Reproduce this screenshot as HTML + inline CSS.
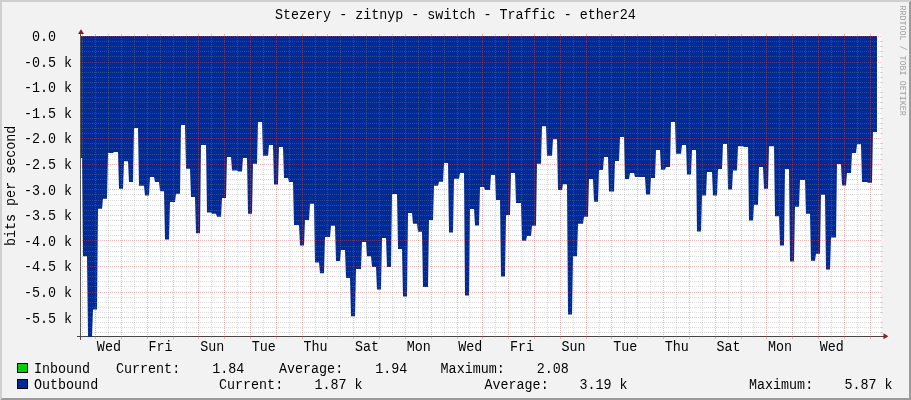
<!DOCTYPE html><html><head><meta charset="utf-8"><title>graph</title><style>
html,body{margin:0;padding:0;background:#f2f2f2;}
body{width:911px;height:400px;overflow:hidden;position:relative;}
svg{position:absolute;left:0;top:0;display:block}
svg.t{will-change:transform;opacity:0.999}
text{font-family:"Liberation Mono",monospace;font-size:13.378px;fill:#000;white-space:pre}
</style></head><body>
<svg width="911" height="400" viewBox="0 0 911 400">
<rect x="0" y="0" width="911" height="400" fill="#f2f2f2"/>
<g shape-rendering="crispEdges">
<polygon points="0,0 911,0 909,2 2,2 2,398 0,400" fill="#cfcfcf"/>
<polygon points="911,0 911,400 0,400 2,398 909,398 909,2" fill="#9a9a9a"/>
<rect x="81" y="35" width="800" height="302" fill="#ffffff"/>
</g>
<g shape-rendering="crispEdges">
<rect x="80" y="32" width="1" height="308" fill="#555555"/>
<rect x="77" y="336" width="808" height="1" fill="#444444"/>
</g>
<polygon points="81,36 81,158 82,158 82,158 83,256.25 84,256.25 85,256.25 86,256.25 87,256.25 88,337 89,337 90,337 91,337 92,337 93,309.5 94,309.5 95,309.5 96,309.5 97,309.5 98,208.75 99,208.75 100,208.75 101,208.75 102,208.75 103,198.75 104,198.75 105,198.75 106,198.75 107,198.75 108,153 109,153 110,153 111,153 112,153 113,153 114,152 115,152 116,152 117,152 118,152 119,188.75 120,188.75 121,188.75 122,188.75 123,188.75 124,161.25 125,161.25 126,161.25 127,161.25 128,161.25 129,182 130,182 131,182 132,182 133,182 134,128 135,128 136,128 137,128 138,128 139,185.75 140,185.75 141,185.75 142,185.75 143,185.75 144,185.75 145,195.5 146,195.5 147,195.5 148,195.5 149,195.5 150,177 151,177 152,177 153,177 154,177 155,182 156,182 157,182 158,182 159,182 160,191.25 161,191.25 162,191.25 163,191.25 164,191.25 165,239.5 166,239.5 167,239.5 168,239.5 169,239.5 170,202 171,202 172,202 173,202 174,202 175,202 176,193.75 177,193.75 178,193.75 179,193.75 180,193.75 181,125 182,125 183,125 184,125 185,125 186,168.75 187,168.75 188,168.75 189,168.75 190,168.75 191,197 192,197 193,197 194,197 195,197 196,233.25 197,233.25 198,233.25 199,233.25 200,233.25 201,145 202,145 203,145 204,145 205,145 206,145 207,212.5 208,212.5 209,212.5 210,212.5 211,212.5 212,213.75 213,213.75 214,213.75 215,213.75 216,213.75 217,216.75 218,216.75 219,216.75 220,216.75 221,216.75 222,198 223,198 224,198 225,198 226,198 227,157 228,157 229,157 230,157 231,157 232,170.5 233,170.5 234,170.5 235,170.5 236,170.5 237,170.5 238,171.5 239,171.5 240,171.5 241,171.5 242,171.5 243,158 244,158 245,158 246,158 247,158 248,213.75 249,213.75 250,213.75 251,213.75 252,213.75 253,163.75 254,163.75 255,163.75 256,163.75 257,163.75 258,122 259,122 260,122 261,122 262,122 263,155.75 264,155.75 265,155.75 266,155.75 267,155.75 268,155.75 269,145 270,145 271,145 272,145 273,145 274,184.5 275,184.5 276,184.5 277,184.5 278,184.5 279,147 280,147 281,147 282,147 283,147 284,178 285,178 286,178 287,178 288,178 289,182 290,182 291,182 292,182 293,182 294,225 295,225 296,225 297,225 298,225 299,225 300,245.5 301,245.5 302,245.5 303,245.5 304,245.5 305,220 306,220 307,220 308,220 309,220 310,203.75 311,203.75 312,203.75 313,203.75 314,203.75 315,262.5 316,262.5 317,262.5 318,262.5 319,262.5 320,273.25 321,273.25 322,273.25 323,273.25 324,273.25 325,237 326,237 327,237 328,237 329,237 330,237 331,225.75 332,225.75 333,225.75 334,225.75 335,225.75 336,261.1 337,261.1 338,261.1 339,261.1 340,261.1 341,250 342,250 343,250 344,250 345,250 346,278 347,278 348,278 349,278 350,278 351,316.25 352,316.25 353,316.25 354,316.25 355,316.25 356,268.9 357,268.9 358,268.9 359,268.9 360,268.9 361,268.9 362,242 363,242 364,242 365,242 366,242 367,256.25 368,256.25 369,256.25 370,256.25 371,256.25 372,266.9 373,266.9 374,266.9 375,266.9 376,266.9 377,289.5 378,289.5 379,289.5 380,289.5 381,289.5 382,238 383,238 384,238 385,238 386,238 387,267 388,267 389,267 390,267 391,267 392,194 393,194 394,194 395,194 396,194 397,194 398,249 399,249 400,249 401,249 402,249 403,296.5 404,296.5 405,296.5 406,296.5 407,296.5 408,213 409,213 410,213 411,213 412,213 413,223.75 414,223.75 415,223.75 416,223.75 417,223.75 418,231.75 419,231.75 420,231.75 421,231.75 422,231.75 423,287.1 424,287.1 425,287.1 426,287.1 427,287.1 428,287.1 429,220 430,220 431,220 432,220 433,220 434,185.75 435,185.75 436,185.75 437,185.75 438,185.75 439,181.75 440,181.75 441,181.75 442,181.75 443,181.75 444,163 445,163 446,163 447,163 448,163 449,232.5 450,232.5 451,232.5 452,232.5 453,232.5 454,178.75 455,178.75 456,178.75 457,178.75 458,178.75 459,178.75 460,173 461,173 462,173 463,173 464,173 465,295.5 466,295.5 467,295.5 468,295.5 469,295.5 470,209 471,209 472,209 473,209 474,209 475,225.5 476,225.5 477,225.5 478,225.5 479,225.5 480,187 481,187 482,187 483,187 484,187 485,190 486,190 487,190 488,190 489,190 490,190 491,175 492,175 493,175 494,175 495,175 496,200 497,200 498,200 499,200 500,200 501,276.5 502,276.5 503,276.5 504,276.5 505,276.5 506,215 507,215 508,215 509,215 510,215 511,173 512,173 513,173 514,173 515,173 516,203 517,203 518,203 519,203 520,203 521,203 522,240.75 523,240.75 524,240.75 525,240.75 526,240.75 527,236 528,236 529,236 530,236 531,236 532,225.75 533,225.75 534,225.75 535,225.75 536,225.75 537,163.75 538,163.75 539,163.75 540,163.75 541,163.75 542,126.25 543,126.25 544,126.25 545,126.25 546,126.25 547,155.75 548,155.75 549,155.75 550,155.75 551,155.75 552,155.75 553,139.25 554,139.25 555,139.25 556,139.25 557,139.25 558,189.9 559,189.9 560,189.9 561,189.9 562,189.9 563,184.25 564,184.25 565,184.25 566,184.25 567,184.25 568,314.5 569,314.5 570,314.5 571,314.5 572,314.5 573,256.25 574,256.25 575,256.25 576,256.25 577,256.25 578,223.75 579,223.75 580,223.75 581,223.75 582,223.75 583,223.75 584,216.75 585,216.75 586,216.75 587,216.75 588,216.75 589,179 590,179 591,179 592,179 593,179 594,201.75 595,201.75 596,201.75 597,201.75 598,201.75 599,170 600,170 601,170 602,170 603,170 604,157 605,157 606,157 607,157 608,157 609,191.5 610,191.5 611,191.5 612,191.5 613,191.5 614,191.5 615,161 616,161 617,161 618,161 619,161 620,137 621,137 622,137 623,137 624,137 625,178.9 626,178.9 627,178.9 628,178.9 629,178.9 630,173 631,173 632,173 633,173 634,173 635,176.9 636,176.9 637,176.9 638,176.9 639,176.9 640,176.9 641,176.9 642,176.9 643,176.9 644,176.9 645,176.9 646,194.5 647,194.5 648,194.5 649,194.5 650,194.5 651,177.9 652,177.9 653,177.9 654,177.9 655,177.9 656,150 657,150 658,150 659,150 660,150 661,169.8 662,169.8 663,169.8 664,169.8 665,169.8 666,167 667,167 668,167 669,167 670,167 671,122 672,122 673,122 674,122 675,122 676,153.75 677,153.75 678,153.75 679,153.75 680,153.75 681,153.75 682,145 683,145 684,145 685,145 686,145 687,174.5 688,174.5 689,174.5 690,174.5 691,174.5 692,150 693,150 694,150 695,150 696,150 697,231.6 698,231.6 699,231.6 700,231.6 701,231.6 702,195.6 703,195.6 704,195.6 705,195.6 706,195.6 707,172 708,172 709,172 710,172 711,172 712,172 713,195.5 714,195.5 715,195.5 716,195.5 717,195.5 718,169 719,169 720,169 721,169 722,169 723,144 724,144 725,144 726,144 727,144 728,189.5 729,189.5 730,189.5 731,189.5 732,189.5 733,170.5 734,170.5 735,170.5 736,170.5 737,170.5 738,146.25 739,146.25 740,146.25 741,146.25 742,146.25 743,146.25 744,147 745,147 746,147 747,147 748,147 749,220.5 750,220.5 751,220.5 752,220.5 753,220.5 754,204.75 755,204.75 756,204.75 757,204.75 758,204.75 759,167 760,167 761,167 762,167 763,167 764,188.75 765,188.75 766,188.75 767,188.75 768,188.75 769,146.25 770,146.25 771,146.25 772,146.25 773,146.25 774,146.25 775,216.25 776,216.25 777,216.25 778,216.25 779,216.25 780,245.5 781,245.5 782,245.5 783,245.5 784,245.5 785,169 786,169 787,169 788,169 789,169 790,261.5 791,261.5 792,261.5 793,261.5 794,261.5 795,206.75 796,206.75 797,206.75 798,206.75 799,206.75 800,180 801,180 802,180 803,180 804,180 805,180 806,213.75 807,213.75 808,213.75 809,213.75 810,213.75 811,260.75 812,260.75 813,260.75 814,260.75 815,260.75 816,253.75 817,253.75 818,253.75 819,253.75 820,253.75 821,194.75 822,194.75 823,194.75 824,194.75 825,194.75 826,269.5 827,269.5 828,269.5 829,269.5 830,269.5 831,237.5 832,237.5 833,237.5 834,237.5 835,237.5 836,237.5 837,164 838,164 839,164 840,164 841,164 842,185.5 843,185.5 844,185.5 845,185.5 846,185.5 847,173 848,173 849,173 850,173 851,173 852,153 853,153 854,153 855,153 856,153 857,144.25 858,144.25 859,144.25 860,144.25 861,144.25 862,182 863,182 864,182 865,182 866,182 867,182 868,182.75 869,182.75 870,182.75 871,182.75 872,182.75 873,132 874,132 875,132 876,132 877,132 877,36" fill="#002a97"/>
<g shape-rendering="crispEdges" stroke-width="1" fill="none">
<line x1="80" y1="36.5" x2="882" y2="36.5" stroke="rgba(224,80,80,0.40)" stroke-dasharray="1 1"/>
<line x1="80" y1="41.5" x2="81" y2="41.5" stroke="rgba(143,143,143,0.32)"/>
<line x1="881" y1="41.5" x2="883" y2="41.5" stroke="rgba(143,143,143,0.32)"/>
<line x1="82" y1="41.5" x2="881" y2="41.5" stroke="rgba(143,143,143,0.32)" stroke-dasharray="1 1"/>
<line x1="80" y1="46.5" x2="81" y2="46.5" stroke="rgba(143,143,143,0.32)"/>
<line x1="881" y1="46.5" x2="883" y2="46.5" stroke="rgba(143,143,143,0.32)"/>
<line x1="82" y1="46.5" x2="881" y2="46.5" stroke="rgba(143,143,143,0.32)" stroke-dasharray="1 1"/>
<line x1="80" y1="51.5" x2="81" y2="51.5" stroke="rgba(143,143,143,0.32)"/>
<line x1="881" y1="51.5" x2="883" y2="51.5" stroke="rgba(143,143,143,0.32)"/>
<line x1="82" y1="51.5" x2="881" y2="51.5" stroke="rgba(143,143,143,0.32)" stroke-dasharray="1 1"/>
<line x1="80" y1="56.5" x2="81" y2="56.5" stroke="rgba(143,143,143,0.32)"/>
<line x1="881" y1="56.5" x2="883" y2="56.5" stroke="rgba(143,143,143,0.32)"/>
<line x1="82" y1="56.5" x2="881" y2="56.5" stroke="rgba(143,143,143,0.32)" stroke-dasharray="1 1"/>
<line x1="80" y1="62.5" x2="882" y2="62.5" stroke="rgba(224,80,80,0.40)" stroke-dasharray="1 1"/>
<line x1="80" y1="67.5" x2="81" y2="67.5" stroke="rgba(143,143,143,0.32)"/>
<line x1="881" y1="67.5" x2="883" y2="67.5" stroke="rgba(143,143,143,0.32)"/>
<line x1="82" y1="67.5" x2="881" y2="67.5" stroke="rgba(143,143,143,0.32)" stroke-dasharray="1 1"/>
<line x1="80" y1="72.5" x2="81" y2="72.5" stroke="rgba(143,143,143,0.32)"/>
<line x1="881" y1="72.5" x2="883" y2="72.5" stroke="rgba(143,143,143,0.32)"/>
<line x1="82" y1="72.5" x2="881" y2="72.5" stroke="rgba(143,143,143,0.32)" stroke-dasharray="1 1"/>
<line x1="80" y1="77.5" x2="81" y2="77.5" stroke="rgba(143,143,143,0.32)"/>
<line x1="881" y1="77.5" x2="883" y2="77.5" stroke="rgba(143,143,143,0.32)"/>
<line x1="82" y1="77.5" x2="881" y2="77.5" stroke="rgba(143,143,143,0.32)" stroke-dasharray="1 1"/>
<line x1="80" y1="82.5" x2="81" y2="82.5" stroke="rgba(143,143,143,0.32)"/>
<line x1="881" y1="82.5" x2="883" y2="82.5" stroke="rgba(143,143,143,0.32)"/>
<line x1="82" y1="82.5" x2="881" y2="82.5" stroke="rgba(143,143,143,0.32)" stroke-dasharray="1 1"/>
<line x1="80" y1="87.5" x2="882" y2="87.5" stroke="rgba(224,80,80,0.40)" stroke-dasharray="1 1"/>
<line x1="80" y1="92.5" x2="81" y2="92.5" stroke="rgba(143,143,143,0.32)"/>
<line x1="881" y1="92.5" x2="883" y2="92.5" stroke="rgba(143,143,143,0.32)"/>
<line x1="82" y1="92.5" x2="881" y2="92.5" stroke="rgba(143,143,143,0.32)" stroke-dasharray="1 1"/>
<line x1="80" y1="97.5" x2="81" y2="97.5" stroke="rgba(143,143,143,0.32)"/>
<line x1="881" y1="97.5" x2="883" y2="97.5" stroke="rgba(143,143,143,0.32)"/>
<line x1="82" y1="97.5" x2="881" y2="97.5" stroke="rgba(143,143,143,0.32)" stroke-dasharray="1 1"/>
<line x1="80" y1="102.5" x2="81" y2="102.5" stroke="rgba(143,143,143,0.32)"/>
<line x1="881" y1="102.5" x2="883" y2="102.5" stroke="rgba(143,143,143,0.32)"/>
<line x1="82" y1="102.5" x2="881" y2="102.5" stroke="rgba(143,143,143,0.32)" stroke-dasharray="1 1"/>
<line x1="80" y1="108.5" x2="81" y2="108.5" stroke="rgba(143,143,143,0.32)"/>
<line x1="881" y1="108.5" x2="883" y2="108.5" stroke="rgba(143,143,143,0.32)"/>
<line x1="82" y1="108.5" x2="881" y2="108.5" stroke="rgba(143,143,143,0.32)" stroke-dasharray="1 1"/>
<line x1="80" y1="113.5" x2="882" y2="113.5" stroke="rgba(224,80,80,0.40)" stroke-dasharray="1 1"/>
<line x1="80" y1="118.5" x2="81" y2="118.5" stroke="rgba(143,143,143,0.32)"/>
<line x1="881" y1="118.5" x2="883" y2="118.5" stroke="rgba(143,143,143,0.32)"/>
<line x1="82" y1="118.5" x2="881" y2="118.5" stroke="rgba(143,143,143,0.32)" stroke-dasharray="1 1"/>
<line x1="80" y1="123.5" x2="81" y2="123.5" stroke="rgba(143,143,143,0.32)"/>
<line x1="881" y1="123.5" x2="883" y2="123.5" stroke="rgba(143,143,143,0.32)"/>
<line x1="82" y1="123.5" x2="881" y2="123.5" stroke="rgba(143,143,143,0.32)" stroke-dasharray="1 1"/>
<line x1="80" y1="128.5" x2="81" y2="128.5" stroke="rgba(143,143,143,0.32)"/>
<line x1="881" y1="128.5" x2="883" y2="128.5" stroke="rgba(143,143,143,0.32)"/>
<line x1="82" y1="128.5" x2="881" y2="128.5" stroke="rgba(143,143,143,0.32)" stroke-dasharray="1 1"/>
<line x1="80" y1="133.5" x2="81" y2="133.5" stroke="rgba(143,143,143,0.32)"/>
<line x1="881" y1="133.5" x2="883" y2="133.5" stroke="rgba(143,143,143,0.32)"/>
<line x1="82" y1="133.5" x2="881" y2="133.5" stroke="rgba(143,143,143,0.32)" stroke-dasharray="1 1"/>
<line x1="80" y1="138.5" x2="882" y2="138.5" stroke="rgba(224,80,80,0.40)" stroke-dasharray="1 1"/>
<line x1="80" y1="143.5" x2="81" y2="143.5" stroke="rgba(143,143,143,0.32)"/>
<line x1="881" y1="143.5" x2="883" y2="143.5" stroke="rgba(143,143,143,0.32)"/>
<line x1="82" y1="143.5" x2="881" y2="143.5" stroke="rgba(143,143,143,0.32)" stroke-dasharray="1 1"/>
<line x1="80" y1="148.5" x2="81" y2="148.5" stroke="rgba(143,143,143,0.32)"/>
<line x1="881" y1="148.5" x2="883" y2="148.5" stroke="rgba(143,143,143,0.32)"/>
<line x1="82" y1="148.5" x2="881" y2="148.5" stroke="rgba(143,143,143,0.32)" stroke-dasharray="1 1"/>
<line x1="80" y1="154.5" x2="81" y2="154.5" stroke="rgba(143,143,143,0.32)"/>
<line x1="881" y1="154.5" x2="883" y2="154.5" stroke="rgba(143,143,143,0.32)"/>
<line x1="82" y1="154.5" x2="881" y2="154.5" stroke="rgba(143,143,143,0.32)" stroke-dasharray="1 1"/>
<line x1="80" y1="159.5" x2="81" y2="159.5" stroke="rgba(143,143,143,0.32)"/>
<line x1="881" y1="159.5" x2="883" y2="159.5" stroke="rgba(143,143,143,0.32)"/>
<line x1="82" y1="159.5" x2="881" y2="159.5" stroke="rgba(143,143,143,0.32)" stroke-dasharray="1 1"/>
<line x1="80" y1="164.5" x2="882" y2="164.5" stroke="rgba(224,80,80,0.40)" stroke-dasharray="1 1"/>
<line x1="80" y1="169.5" x2="81" y2="169.5" stroke="rgba(143,143,143,0.32)"/>
<line x1="881" y1="169.5" x2="883" y2="169.5" stroke="rgba(143,143,143,0.32)"/>
<line x1="82" y1="169.5" x2="881" y2="169.5" stroke="rgba(143,143,143,0.32)" stroke-dasharray="1 1"/>
<line x1="80" y1="174.5" x2="81" y2="174.5" stroke="rgba(143,143,143,0.32)"/>
<line x1="881" y1="174.5" x2="883" y2="174.5" stroke="rgba(143,143,143,0.32)"/>
<line x1="82" y1="174.5" x2="881" y2="174.5" stroke="rgba(143,143,143,0.32)" stroke-dasharray="1 1"/>
<line x1="80" y1="179.5" x2="81" y2="179.5" stroke="rgba(143,143,143,0.32)"/>
<line x1="881" y1="179.5" x2="883" y2="179.5" stroke="rgba(143,143,143,0.32)"/>
<line x1="82" y1="179.5" x2="881" y2="179.5" stroke="rgba(143,143,143,0.32)" stroke-dasharray="1 1"/>
<line x1="80" y1="184.5" x2="81" y2="184.5" stroke="rgba(143,143,143,0.32)"/>
<line x1="881" y1="184.5" x2="883" y2="184.5" stroke="rgba(143,143,143,0.32)"/>
<line x1="82" y1="184.5" x2="881" y2="184.5" stroke="rgba(143,143,143,0.32)" stroke-dasharray="1 1"/>
<line x1="80" y1="189.5" x2="882" y2="189.5" stroke="rgba(224,80,80,0.40)" stroke-dasharray="1 1"/>
<line x1="80" y1="194.5" x2="81" y2="194.5" stroke="rgba(143,143,143,0.32)"/>
<line x1="881" y1="194.5" x2="883" y2="194.5" stroke="rgba(143,143,143,0.32)"/>
<line x1="82" y1="194.5" x2="881" y2="194.5" stroke="rgba(143,143,143,0.32)" stroke-dasharray="1 1"/>
<line x1="80" y1="200.5" x2="81" y2="200.5" stroke="rgba(143,143,143,0.32)"/>
<line x1="881" y1="200.5" x2="883" y2="200.5" stroke="rgba(143,143,143,0.32)"/>
<line x1="82" y1="200.5" x2="881" y2="200.5" stroke="rgba(143,143,143,0.32)" stroke-dasharray="1 1"/>
<line x1="80" y1="205.5" x2="81" y2="205.5" stroke="rgba(143,143,143,0.32)"/>
<line x1="881" y1="205.5" x2="883" y2="205.5" stroke="rgba(143,143,143,0.32)"/>
<line x1="82" y1="205.5" x2="881" y2="205.5" stroke="rgba(143,143,143,0.32)" stroke-dasharray="1 1"/>
<line x1="80" y1="210.5" x2="81" y2="210.5" stroke="rgba(143,143,143,0.32)"/>
<line x1="881" y1="210.5" x2="883" y2="210.5" stroke="rgba(143,143,143,0.32)"/>
<line x1="82" y1="210.5" x2="881" y2="210.5" stroke="rgba(143,143,143,0.32)" stroke-dasharray="1 1"/>
<line x1="80" y1="215.5" x2="882" y2="215.5" stroke="rgba(224,80,80,0.40)" stroke-dasharray="1 1"/>
<line x1="80" y1="220.5" x2="81" y2="220.5" stroke="rgba(143,143,143,0.32)"/>
<line x1="881" y1="220.5" x2="883" y2="220.5" stroke="rgba(143,143,143,0.32)"/>
<line x1="82" y1="220.5" x2="881" y2="220.5" stroke="rgba(143,143,143,0.32)" stroke-dasharray="1 1"/>
<line x1="80" y1="225.5" x2="81" y2="225.5" stroke="rgba(143,143,143,0.32)"/>
<line x1="881" y1="225.5" x2="883" y2="225.5" stroke="rgba(143,143,143,0.32)"/>
<line x1="82" y1="225.5" x2="881" y2="225.5" stroke="rgba(143,143,143,0.32)" stroke-dasharray="1 1"/>
<line x1="80" y1="230.5" x2="81" y2="230.5" stroke="rgba(143,143,143,0.32)"/>
<line x1="881" y1="230.5" x2="883" y2="230.5" stroke="rgba(143,143,143,0.32)"/>
<line x1="82" y1="230.5" x2="881" y2="230.5" stroke="rgba(143,143,143,0.32)" stroke-dasharray="1 1"/>
<line x1="80" y1="235.5" x2="81" y2="235.5" stroke="rgba(143,143,143,0.32)"/>
<line x1="881" y1="235.5" x2="883" y2="235.5" stroke="rgba(143,143,143,0.32)"/>
<line x1="82" y1="235.5" x2="881" y2="235.5" stroke="rgba(143,143,143,0.32)" stroke-dasharray="1 1"/>
<line x1="80" y1="240.5" x2="882" y2="240.5" stroke="rgba(224,80,80,0.40)" stroke-dasharray="1 1"/>
<line x1="80" y1="246.5" x2="81" y2="246.5" stroke="rgba(143,143,143,0.32)"/>
<line x1="881" y1="246.5" x2="883" y2="246.5" stroke="rgba(143,143,143,0.32)"/>
<line x1="82" y1="246.5" x2="881" y2="246.5" stroke="rgba(143,143,143,0.32)" stroke-dasharray="1 1"/>
<line x1="80" y1="251.5" x2="81" y2="251.5" stroke="rgba(143,143,143,0.32)"/>
<line x1="881" y1="251.5" x2="883" y2="251.5" stroke="rgba(143,143,143,0.32)"/>
<line x1="82" y1="251.5" x2="881" y2="251.5" stroke="rgba(143,143,143,0.32)" stroke-dasharray="1 1"/>
<line x1="80" y1="256.5" x2="81" y2="256.5" stroke="rgba(143,143,143,0.32)"/>
<line x1="881" y1="256.5" x2="883" y2="256.5" stroke="rgba(143,143,143,0.32)"/>
<line x1="82" y1="256.5" x2="881" y2="256.5" stroke="rgba(143,143,143,0.32)" stroke-dasharray="1 1"/>
<line x1="80" y1="261.5" x2="81" y2="261.5" stroke="rgba(143,143,143,0.32)"/>
<line x1="881" y1="261.5" x2="883" y2="261.5" stroke="rgba(143,143,143,0.32)"/>
<line x1="82" y1="261.5" x2="881" y2="261.5" stroke="rgba(143,143,143,0.32)" stroke-dasharray="1 1"/>
<line x1="80" y1="266.5" x2="882" y2="266.5" stroke="rgba(224,80,80,0.40)" stroke-dasharray="1 1"/>
<line x1="80" y1="271.5" x2="81" y2="271.5" stroke="rgba(143,143,143,0.32)"/>
<line x1="881" y1="271.5" x2="883" y2="271.5" stroke="rgba(143,143,143,0.32)"/>
<line x1="82" y1="271.5" x2="881" y2="271.5" stroke="rgba(143,143,143,0.32)" stroke-dasharray="1 1"/>
<line x1="80" y1="276.5" x2="81" y2="276.5" stroke="rgba(143,143,143,0.32)"/>
<line x1="881" y1="276.5" x2="883" y2="276.5" stroke="rgba(143,143,143,0.32)"/>
<line x1="82" y1="276.5" x2="881" y2="276.5" stroke="rgba(143,143,143,0.32)" stroke-dasharray="1 1"/>
<line x1="80" y1="281.5" x2="81" y2="281.5" stroke="rgba(143,143,143,0.32)"/>
<line x1="881" y1="281.5" x2="883" y2="281.5" stroke="rgba(143,143,143,0.32)"/>
<line x1="82" y1="281.5" x2="881" y2="281.5" stroke="rgba(143,143,143,0.32)" stroke-dasharray="1 1"/>
<line x1="80" y1="286.5" x2="81" y2="286.5" stroke="rgba(143,143,143,0.32)"/>
<line x1="881" y1="286.5" x2="883" y2="286.5" stroke="rgba(143,143,143,0.32)"/>
<line x1="82" y1="286.5" x2="881" y2="286.5" stroke="rgba(143,143,143,0.32)" stroke-dasharray="1 1"/>
<line x1="80" y1="292.5" x2="882" y2="292.5" stroke="rgba(224,80,80,0.40)" stroke-dasharray="1 1"/>
<line x1="80" y1="297.5" x2="81" y2="297.5" stroke="rgba(143,143,143,0.32)"/>
<line x1="881" y1="297.5" x2="883" y2="297.5" stroke="rgba(143,143,143,0.32)"/>
<line x1="82" y1="297.5" x2="881" y2="297.5" stroke="rgba(143,143,143,0.32)" stroke-dasharray="1 1"/>
<line x1="80" y1="302.5" x2="81" y2="302.5" stroke="rgba(143,143,143,0.32)"/>
<line x1="881" y1="302.5" x2="883" y2="302.5" stroke="rgba(143,143,143,0.32)"/>
<line x1="82" y1="302.5" x2="881" y2="302.5" stroke="rgba(143,143,143,0.32)" stroke-dasharray="1 1"/>
<line x1="80" y1="307.5" x2="81" y2="307.5" stroke="rgba(143,143,143,0.32)"/>
<line x1="881" y1="307.5" x2="883" y2="307.5" stroke="rgba(143,143,143,0.32)"/>
<line x1="82" y1="307.5" x2="881" y2="307.5" stroke="rgba(143,143,143,0.32)" stroke-dasharray="1 1"/>
<line x1="80" y1="312.5" x2="81" y2="312.5" stroke="rgba(143,143,143,0.32)"/>
<line x1="881" y1="312.5" x2="883" y2="312.5" stroke="rgba(143,143,143,0.32)"/>
<line x1="82" y1="312.5" x2="881" y2="312.5" stroke="rgba(143,143,143,0.32)" stroke-dasharray="1 1"/>
<line x1="80" y1="317.5" x2="882" y2="317.5" stroke="rgba(224,80,80,0.40)" stroke-dasharray="1 1"/>
<line x1="80" y1="322.5" x2="81" y2="322.5" stroke="rgba(143,143,143,0.32)"/>
<line x1="881" y1="322.5" x2="883" y2="322.5" stroke="rgba(143,143,143,0.32)"/>
<line x1="82" y1="322.5" x2="881" y2="322.5" stroke="rgba(143,143,143,0.32)" stroke-dasharray="1 1"/>
<line x1="80" y1="327.5" x2="81" y2="327.5" stroke="rgba(143,143,143,0.32)"/>
<line x1="881" y1="327.5" x2="883" y2="327.5" stroke="rgba(143,143,143,0.32)"/>
<line x1="82" y1="327.5" x2="881" y2="327.5" stroke="rgba(143,143,143,0.32)" stroke-dasharray="1 1"/>
<line x1="80" y1="332.5" x2="81" y2="332.5" stroke="rgba(143,143,143,0.32)"/>
<line x1="881" y1="332.5" x2="883" y2="332.5" stroke="rgba(143,143,143,0.32)"/>
<line x1="82" y1="332.5" x2="881" y2="332.5" stroke="rgba(143,143,143,0.32)" stroke-dasharray="1 1"/>
<line x1="82.5" y1="36" x2="82.5" y2="336" stroke="rgba(143,143,143,0.32)" stroke-dasharray="1 1"/>
<line x1="82.5" y1="34" x2="82.5" y2="36" stroke="rgba(143,143,143,0.32)"/>
<line x1="82.5" y1="336" x2="82.5" y2="338" stroke="rgba(143,143,143,0.32)"/>
<line x1="108.5" y1="36" x2="108.5" y2="336" stroke="rgba(143,143,143,0.32)" stroke-dasharray="1 1"/>
<line x1="108.5" y1="34" x2="108.5" y2="36" stroke="rgba(143,143,143,0.32)"/>
<line x1="108.5" y1="336" x2="108.5" y2="338" stroke="rgba(143,143,143,0.32)"/>
<line x1="134.5" y1="36" x2="134.5" y2="336" stroke="rgba(143,143,143,0.32)" stroke-dasharray="1 1"/>
<line x1="134.5" y1="34" x2="134.5" y2="36" stroke="rgba(143,143,143,0.32)"/>
<line x1="134.5" y1="336" x2="134.5" y2="338" stroke="rgba(143,143,143,0.32)"/>
<line x1="160.5" y1="36" x2="160.5" y2="336" stroke="rgba(143,143,143,0.32)" stroke-dasharray="1 1"/>
<line x1="160.5" y1="34" x2="160.5" y2="36" stroke="rgba(143,143,143,0.32)"/>
<line x1="160.5" y1="336" x2="160.5" y2="338" stroke="rgba(143,143,143,0.32)"/>
<line x1="186.5" y1="36" x2="186.5" y2="336" stroke="rgba(143,143,143,0.32)" stroke-dasharray="1 1"/>
<line x1="186.5" y1="34" x2="186.5" y2="36" stroke="rgba(143,143,143,0.32)"/>
<line x1="186.5" y1="336" x2="186.5" y2="338" stroke="rgba(143,143,143,0.32)"/>
<line x1="211.5" y1="36" x2="211.5" y2="336" stroke="rgba(143,143,143,0.32)" stroke-dasharray="1 1"/>
<line x1="211.5" y1="34" x2="211.5" y2="36" stroke="rgba(143,143,143,0.32)"/>
<line x1="211.5" y1="336" x2="211.5" y2="338" stroke="rgba(143,143,143,0.32)"/>
<line x1="237.5" y1="36" x2="237.5" y2="336" stroke="rgba(143,143,143,0.32)" stroke-dasharray="1 1"/>
<line x1="237.5" y1="34" x2="237.5" y2="36" stroke="rgba(143,143,143,0.32)"/>
<line x1="237.5" y1="336" x2="237.5" y2="338" stroke="rgba(143,143,143,0.32)"/>
<line x1="263.5" y1="36" x2="263.5" y2="336" stroke="rgba(143,143,143,0.32)" stroke-dasharray="1 1"/>
<line x1="263.5" y1="34" x2="263.5" y2="36" stroke="rgba(143,143,143,0.32)"/>
<line x1="263.5" y1="336" x2="263.5" y2="338" stroke="rgba(143,143,143,0.32)"/>
<line x1="289.5" y1="36" x2="289.5" y2="336" stroke="rgba(143,143,143,0.32)" stroke-dasharray="1 1"/>
<line x1="289.5" y1="34" x2="289.5" y2="36" stroke="rgba(143,143,143,0.32)"/>
<line x1="289.5" y1="336" x2="289.5" y2="338" stroke="rgba(143,143,143,0.32)"/>
<line x1="315.5" y1="36" x2="315.5" y2="336" stroke="rgba(143,143,143,0.32)" stroke-dasharray="1 1"/>
<line x1="315.5" y1="34" x2="315.5" y2="36" stroke="rgba(143,143,143,0.32)"/>
<line x1="315.5" y1="336" x2="315.5" y2="338" stroke="rgba(143,143,143,0.32)"/>
<line x1="340.5" y1="36" x2="340.5" y2="336" stroke="rgba(143,143,143,0.32)" stroke-dasharray="1 1"/>
<line x1="340.5" y1="34" x2="340.5" y2="36" stroke="rgba(143,143,143,0.32)"/>
<line x1="340.5" y1="336" x2="340.5" y2="338" stroke="rgba(143,143,143,0.32)"/>
<line x1="366.5" y1="36" x2="366.5" y2="336" stroke="rgba(143,143,143,0.32)" stroke-dasharray="1 1"/>
<line x1="366.5" y1="34" x2="366.5" y2="36" stroke="rgba(143,143,143,0.32)"/>
<line x1="366.5" y1="336" x2="366.5" y2="338" stroke="rgba(143,143,143,0.32)"/>
<line x1="392.5" y1="36" x2="392.5" y2="336" stroke="rgba(143,143,143,0.32)" stroke-dasharray="1 1"/>
<line x1="392.5" y1="34" x2="392.5" y2="36" stroke="rgba(143,143,143,0.32)"/>
<line x1="392.5" y1="336" x2="392.5" y2="338" stroke="rgba(143,143,143,0.32)"/>
<line x1="418.5" y1="36" x2="418.5" y2="336" stroke="rgba(143,143,143,0.32)" stroke-dasharray="1 1"/>
<line x1="418.5" y1="34" x2="418.5" y2="36" stroke="rgba(143,143,143,0.32)"/>
<line x1="418.5" y1="336" x2="418.5" y2="338" stroke="rgba(143,143,143,0.32)"/>
<line x1="444.5" y1="36" x2="444.5" y2="336" stroke="rgba(143,143,143,0.32)" stroke-dasharray="1 1"/>
<line x1="444.5" y1="34" x2="444.5" y2="36" stroke="rgba(143,143,143,0.32)"/>
<line x1="444.5" y1="336" x2="444.5" y2="338" stroke="rgba(143,143,143,0.32)"/>
<line x1="469.5" y1="36" x2="469.5" y2="336" stroke="rgba(143,143,143,0.32)" stroke-dasharray="1 1"/>
<line x1="469.5" y1="34" x2="469.5" y2="36" stroke="rgba(143,143,143,0.32)"/>
<line x1="469.5" y1="336" x2="469.5" y2="338" stroke="rgba(143,143,143,0.32)"/>
<line x1="495.5" y1="36" x2="495.5" y2="336" stroke="rgba(143,143,143,0.32)" stroke-dasharray="1 1"/>
<line x1="495.5" y1="34" x2="495.5" y2="36" stroke="rgba(143,143,143,0.32)"/>
<line x1="495.5" y1="336" x2="495.5" y2="338" stroke="rgba(143,143,143,0.32)"/>
<line x1="521.5" y1="36" x2="521.5" y2="336" stroke="rgba(143,143,143,0.32)" stroke-dasharray="1 1"/>
<line x1="521.5" y1="34" x2="521.5" y2="36" stroke="rgba(143,143,143,0.32)"/>
<line x1="521.5" y1="336" x2="521.5" y2="338" stroke="rgba(143,143,143,0.32)"/>
<line x1="547.5" y1="36" x2="547.5" y2="336" stroke="rgba(143,143,143,0.32)" stroke-dasharray="1 1"/>
<line x1="547.5" y1="34" x2="547.5" y2="36" stroke="rgba(143,143,143,0.32)"/>
<line x1="547.5" y1="336" x2="547.5" y2="338" stroke="rgba(143,143,143,0.32)"/>
<line x1="573.5" y1="36" x2="573.5" y2="336" stroke="rgba(143,143,143,0.32)" stroke-dasharray="1 1"/>
<line x1="573.5" y1="34" x2="573.5" y2="36" stroke="rgba(143,143,143,0.32)"/>
<line x1="573.5" y1="336" x2="573.5" y2="338" stroke="rgba(143,143,143,0.32)"/>
<line x1="599.5" y1="36" x2="599.5" y2="336" stroke="rgba(143,143,143,0.32)" stroke-dasharray="1 1"/>
<line x1="599.5" y1="34" x2="599.5" y2="36" stroke="rgba(143,143,143,0.32)"/>
<line x1="599.5" y1="336" x2="599.5" y2="338" stroke="rgba(143,143,143,0.32)"/>
<line x1="624.5" y1="36" x2="624.5" y2="336" stroke="rgba(143,143,143,0.32)" stroke-dasharray="1 1"/>
<line x1="624.5" y1="34" x2="624.5" y2="36" stroke="rgba(143,143,143,0.32)"/>
<line x1="624.5" y1="336" x2="624.5" y2="338" stroke="rgba(143,143,143,0.32)"/>
<line x1="650.5" y1="36" x2="650.5" y2="336" stroke="rgba(143,143,143,0.32)" stroke-dasharray="1 1"/>
<line x1="650.5" y1="34" x2="650.5" y2="36" stroke="rgba(143,143,143,0.32)"/>
<line x1="650.5" y1="336" x2="650.5" y2="338" stroke="rgba(143,143,143,0.32)"/>
<line x1="676.5" y1="36" x2="676.5" y2="336" stroke="rgba(143,143,143,0.32)" stroke-dasharray="1 1"/>
<line x1="676.5" y1="34" x2="676.5" y2="36" stroke="rgba(143,143,143,0.32)"/>
<line x1="676.5" y1="336" x2="676.5" y2="338" stroke="rgba(143,143,143,0.32)"/>
<line x1="702.5" y1="36" x2="702.5" y2="336" stroke="rgba(143,143,143,0.32)" stroke-dasharray="1 1"/>
<line x1="702.5" y1="34" x2="702.5" y2="36" stroke="rgba(143,143,143,0.32)"/>
<line x1="702.5" y1="336" x2="702.5" y2="338" stroke="rgba(143,143,143,0.32)"/>
<line x1="728.5" y1="36" x2="728.5" y2="336" stroke="rgba(143,143,143,0.32)" stroke-dasharray="1 1"/>
<line x1="728.5" y1="34" x2="728.5" y2="36" stroke="rgba(143,143,143,0.32)"/>
<line x1="728.5" y1="336" x2="728.5" y2="338" stroke="rgba(143,143,143,0.32)"/>
<line x1="753.5" y1="36" x2="753.5" y2="336" stroke="rgba(143,143,143,0.32)" stroke-dasharray="1 1"/>
<line x1="753.5" y1="34" x2="753.5" y2="36" stroke="rgba(143,143,143,0.32)"/>
<line x1="753.5" y1="336" x2="753.5" y2="338" stroke="rgba(143,143,143,0.32)"/>
<line x1="779.5" y1="36" x2="779.5" y2="336" stroke="rgba(143,143,143,0.32)" stroke-dasharray="1 1"/>
<line x1="779.5" y1="34" x2="779.5" y2="36" stroke="rgba(143,143,143,0.32)"/>
<line x1="779.5" y1="336" x2="779.5" y2="338" stroke="rgba(143,143,143,0.32)"/>
<line x1="805.5" y1="36" x2="805.5" y2="336" stroke="rgba(143,143,143,0.32)" stroke-dasharray="1 1"/>
<line x1="805.5" y1="34" x2="805.5" y2="36" stroke="rgba(143,143,143,0.32)"/>
<line x1="805.5" y1="336" x2="805.5" y2="338" stroke="rgba(143,143,143,0.32)"/>
<line x1="831.5" y1="36" x2="831.5" y2="336" stroke="rgba(143,143,143,0.32)" stroke-dasharray="1 1"/>
<line x1="831.5" y1="34" x2="831.5" y2="36" stroke="rgba(143,143,143,0.32)"/>
<line x1="831.5" y1="336" x2="831.5" y2="338" stroke="rgba(143,143,143,0.32)"/>
<line x1="857.5" y1="36" x2="857.5" y2="336" stroke="rgba(143,143,143,0.32)" stroke-dasharray="1 1"/>
<line x1="857.5" y1="34" x2="857.5" y2="36" stroke="rgba(143,143,143,0.32)"/>
<line x1="857.5" y1="336" x2="857.5" y2="338" stroke="rgba(143,143,143,0.32)"/>
<line x1="95.5" y1="36" x2="95.5" y2="336" stroke="rgba(224,80,80,0.40)" stroke-dasharray="1 1"/>
<line x1="95.5" y1="34" x2="95.5" y2="36" stroke="rgba(224,80,80,0.40)"/>
<line x1="95.5" y1="336" x2="95.5" y2="339" stroke="rgba(224,80,80,0.40)"/>
<line x1="121.5" y1="36" x2="121.5" y2="336" stroke="rgba(224,80,80,0.40)" stroke-dasharray="1 1"/>
<line x1="121.5" y1="34" x2="121.5" y2="36" stroke="rgba(224,80,80,0.40)"/>
<line x1="121.5" y1="336" x2="121.5" y2="339" stroke="rgba(224,80,80,0.40)"/>
<line x1="147.5" y1="36" x2="147.5" y2="336" stroke="rgba(224,80,80,0.40)" stroke-dasharray="1 1"/>
<line x1="147.5" y1="34" x2="147.5" y2="36" stroke="rgba(224,80,80,0.40)"/>
<line x1="147.5" y1="336" x2="147.5" y2="339" stroke="rgba(224,80,80,0.40)"/>
<line x1="173.5" y1="36" x2="173.5" y2="336" stroke="rgba(224,80,80,0.40)" stroke-dasharray="1 1"/>
<line x1="173.5" y1="34" x2="173.5" y2="36" stroke="rgba(224,80,80,0.40)"/>
<line x1="173.5" y1="336" x2="173.5" y2="339" stroke="rgba(224,80,80,0.40)"/>
<line x1="198.5" y1="36" x2="198.5" y2="336" stroke="rgba(224,80,80,0.40)" stroke-dasharray="1 1"/>
<line x1="198.5" y1="34" x2="198.5" y2="36" stroke="rgba(224,80,80,0.40)"/>
<line x1="198.5" y1="336" x2="198.5" y2="339" stroke="rgba(224,80,80,0.40)"/>
<line x1="224.5" y1="36" x2="224.5" y2="336" stroke="rgba(224,80,80,0.40)" stroke-dasharray="1 1"/>
<line x1="224.5" y1="34" x2="224.5" y2="36" stroke="rgba(224,80,80,0.40)"/>
<line x1="224.5" y1="336" x2="224.5" y2="339" stroke="rgba(224,80,80,0.40)"/>
<line x1="250.5" y1="36" x2="250.5" y2="336" stroke="rgba(224,80,80,0.40)" stroke-dasharray="1 1"/>
<line x1="250.5" y1="34" x2="250.5" y2="36" stroke="rgba(224,80,80,0.40)"/>
<line x1="250.5" y1="336" x2="250.5" y2="339" stroke="rgba(224,80,80,0.40)"/>
<line x1="276.5" y1="36" x2="276.5" y2="336" stroke="rgba(224,80,80,0.40)" stroke-dasharray="1 1"/>
<line x1="276.5" y1="34" x2="276.5" y2="36" stroke="rgba(224,80,80,0.40)"/>
<line x1="276.5" y1="336" x2="276.5" y2="339" stroke="rgba(224,80,80,0.40)"/>
<line x1="302.5" y1="36" x2="302.5" y2="336" stroke="rgba(224,80,80,0.40)" stroke-dasharray="1 1"/>
<line x1="302.5" y1="34" x2="302.5" y2="36" stroke="rgba(224,80,80,0.40)"/>
<line x1="302.5" y1="336" x2="302.5" y2="339" stroke="rgba(224,80,80,0.40)"/>
<line x1="327.5" y1="36" x2="327.5" y2="336" stroke="rgba(224,80,80,0.40)" stroke-dasharray="1 1"/>
<line x1="327.5" y1="34" x2="327.5" y2="36" stroke="rgba(224,80,80,0.40)"/>
<line x1="327.5" y1="336" x2="327.5" y2="339" stroke="rgba(224,80,80,0.40)"/>
<line x1="353.5" y1="36" x2="353.5" y2="336" stroke="rgba(224,80,80,0.40)" stroke-dasharray="1 1"/>
<line x1="353.5" y1="34" x2="353.5" y2="36" stroke="rgba(224,80,80,0.40)"/>
<line x1="353.5" y1="336" x2="353.5" y2="339" stroke="rgba(224,80,80,0.40)"/>
<line x1="379.5" y1="36" x2="379.5" y2="336" stroke="rgba(224,80,80,0.40)" stroke-dasharray="1 1"/>
<line x1="379.5" y1="34" x2="379.5" y2="36" stroke="rgba(224,80,80,0.40)"/>
<line x1="379.5" y1="336" x2="379.5" y2="339" stroke="rgba(224,80,80,0.40)"/>
<line x1="405.5" y1="36" x2="405.5" y2="336" stroke="rgba(224,80,80,0.40)" stroke-dasharray="1 1"/>
<line x1="405.5" y1="34" x2="405.5" y2="36" stroke="rgba(224,80,80,0.40)"/>
<line x1="405.5" y1="336" x2="405.5" y2="339" stroke="rgba(224,80,80,0.40)"/>
<line x1="431.5" y1="36" x2="431.5" y2="336" stroke="rgba(224,80,80,0.40)" stroke-dasharray="1 1"/>
<line x1="431.5" y1="34" x2="431.5" y2="36" stroke="rgba(224,80,80,0.40)"/>
<line x1="431.5" y1="336" x2="431.5" y2="339" stroke="rgba(224,80,80,0.40)"/>
<line x1="457.5" y1="36" x2="457.5" y2="336" stroke="rgba(224,80,80,0.40)" stroke-dasharray="1 1"/>
<line x1="457.5" y1="34" x2="457.5" y2="36" stroke="rgba(224,80,80,0.40)"/>
<line x1="457.5" y1="336" x2="457.5" y2="339" stroke="rgba(224,80,80,0.40)"/>
<line x1="482.5" y1="36" x2="482.5" y2="336" stroke="rgba(224,80,80,0.40)" stroke-dasharray="1 1"/>
<line x1="482.5" y1="34" x2="482.5" y2="36" stroke="rgba(224,80,80,0.40)"/>
<line x1="482.5" y1="336" x2="482.5" y2="339" stroke="rgba(224,80,80,0.40)"/>
<line x1="508.5" y1="36" x2="508.5" y2="336" stroke="rgba(224,80,80,0.40)" stroke-dasharray="1 1"/>
<line x1="508.5" y1="34" x2="508.5" y2="36" stroke="rgba(224,80,80,0.40)"/>
<line x1="508.5" y1="336" x2="508.5" y2="339" stroke="rgba(224,80,80,0.40)"/>
<line x1="534.5" y1="36" x2="534.5" y2="336" stroke="rgba(224,80,80,0.40)" stroke-dasharray="1 1"/>
<line x1="534.5" y1="34" x2="534.5" y2="36" stroke="rgba(224,80,80,0.40)"/>
<line x1="534.5" y1="336" x2="534.5" y2="339" stroke="rgba(224,80,80,0.40)"/>
<line x1="560.5" y1="36" x2="560.5" y2="336" stroke="rgba(224,80,80,0.40)" stroke-dasharray="1 1"/>
<line x1="560.5" y1="34" x2="560.5" y2="36" stroke="rgba(224,80,80,0.40)"/>
<line x1="560.5" y1="336" x2="560.5" y2="339" stroke="rgba(224,80,80,0.40)"/>
<line x1="586.5" y1="36" x2="586.5" y2="336" stroke="rgba(224,80,80,0.40)" stroke-dasharray="1 1"/>
<line x1="586.5" y1="34" x2="586.5" y2="36" stroke="rgba(224,80,80,0.40)"/>
<line x1="586.5" y1="336" x2="586.5" y2="339" stroke="rgba(224,80,80,0.40)"/>
<line x1="611.5" y1="36" x2="611.5" y2="336" stroke="rgba(224,80,80,0.40)" stroke-dasharray="1 1"/>
<line x1="611.5" y1="34" x2="611.5" y2="36" stroke="rgba(224,80,80,0.40)"/>
<line x1="611.5" y1="336" x2="611.5" y2="339" stroke="rgba(224,80,80,0.40)"/>
<line x1="637.5" y1="36" x2="637.5" y2="336" stroke="rgba(224,80,80,0.40)" stroke-dasharray="1 1"/>
<line x1="637.5" y1="34" x2="637.5" y2="36" stroke="rgba(224,80,80,0.40)"/>
<line x1="637.5" y1="336" x2="637.5" y2="339" stroke="rgba(224,80,80,0.40)"/>
<line x1="663.5" y1="36" x2="663.5" y2="336" stroke="rgba(224,80,80,0.40)" stroke-dasharray="1 1"/>
<line x1="663.5" y1="34" x2="663.5" y2="36" stroke="rgba(224,80,80,0.40)"/>
<line x1="663.5" y1="336" x2="663.5" y2="339" stroke="rgba(224,80,80,0.40)"/>
<line x1="689.5" y1="36" x2="689.5" y2="336" stroke="rgba(224,80,80,0.40)" stroke-dasharray="1 1"/>
<line x1="689.5" y1="34" x2="689.5" y2="36" stroke="rgba(224,80,80,0.40)"/>
<line x1="689.5" y1="336" x2="689.5" y2="339" stroke="rgba(224,80,80,0.40)"/>
<line x1="715.5" y1="36" x2="715.5" y2="336" stroke="rgba(224,80,80,0.40)" stroke-dasharray="1 1"/>
<line x1="715.5" y1="34" x2="715.5" y2="36" stroke="rgba(224,80,80,0.40)"/>
<line x1="715.5" y1="336" x2="715.5" y2="339" stroke="rgba(224,80,80,0.40)"/>
<line x1="741.5" y1="36" x2="741.5" y2="336" stroke="rgba(224,80,80,0.40)" stroke-dasharray="1 1"/>
<line x1="741.5" y1="34" x2="741.5" y2="36" stroke="rgba(224,80,80,0.40)"/>
<line x1="741.5" y1="336" x2="741.5" y2="339" stroke="rgba(224,80,80,0.40)"/>
<line x1="766.5" y1="36" x2="766.5" y2="336" stroke="rgba(224,80,80,0.40)" stroke-dasharray="1 1"/>
<line x1="766.5" y1="34" x2="766.5" y2="36" stroke="rgba(224,80,80,0.40)"/>
<line x1="766.5" y1="336" x2="766.5" y2="339" stroke="rgba(224,80,80,0.40)"/>
<line x1="792.5" y1="36" x2="792.5" y2="336" stroke="rgba(224,80,80,0.40)" stroke-dasharray="1 1"/>
<line x1="792.5" y1="34" x2="792.5" y2="36" stroke="rgba(224,80,80,0.40)"/>
<line x1="792.5" y1="336" x2="792.5" y2="339" stroke="rgba(224,80,80,0.40)"/>
<line x1="818.5" y1="36" x2="818.5" y2="336" stroke="rgba(224,80,80,0.40)" stroke-dasharray="1 1"/>
<line x1="818.5" y1="34" x2="818.5" y2="36" stroke="rgba(224,80,80,0.40)"/>
<line x1="818.5" y1="336" x2="818.5" y2="339" stroke="rgba(224,80,80,0.40)"/>
<line x1="844.5" y1="36" x2="844.5" y2="336" stroke="rgba(224,80,80,0.40)" stroke-dasharray="1 1"/>
<line x1="844.5" y1="34" x2="844.5" y2="36" stroke="rgba(224,80,80,0.40)"/>
<line x1="844.5" y1="336" x2="844.5" y2="339" stroke="rgba(224,80,80,0.40)"/>
<line x1="870.5" y1="36" x2="870.5" y2="336" stroke="rgba(224,80,80,0.40)" stroke-dasharray="1 1"/>
<line x1="870.5" y1="34" x2="870.5" y2="36" stroke="rgba(224,80,80,0.40)"/>
<line x1="870.5" y1="336" x2="870.5" y2="339" stroke="rgba(224,80,80,0.40)"/>
</g>
<polygon points="78,34 84,34 81,29.3" fill="#802020"/>
<polygon points="883.5,333.3 883.5,339.3 888.3,336.3" fill="#802020"/>
</svg>
<svg class="t" width="911" height="400" viewBox="0 0 911 400">
<text transform="translate(32,41.00) scale(1,1.08)">0.0</text>
<text transform="translate(24,66.60) scale(1,1.08)">-0.5 k</text>
<text transform="translate(24,92.20) scale(1,1.08)">-1.0 k</text>
<text transform="translate(24,117.80) scale(1,1.08)">-1.5 k</text>
<text transform="translate(24,143.40) scale(1,1.08)">-2.0 k</text>
<text transform="translate(24,169.00) scale(1,1.08)">-2.5 k</text>
<text transform="translate(24,194.60) scale(1,1.08)">-3.0 k</text>
<text transform="translate(24,220.20) scale(1,1.08)">-3.5 k</text>
<text transform="translate(24,245.80) scale(1,1.08)">-4.0 k</text>
<text transform="translate(24,271.40) scale(1,1.08)">-4.5 k</text>
<text transform="translate(24,297.00) scale(1,1.08)">-5.0 k</text>
<text transform="translate(24,322.60) scale(1,1.08)">-5.5 k</text>
<text transform="translate(96.87,350.8) scale(1,1.08)">Wed</text>
<text transform="translate(148.50,350.8) scale(1,1.08)">Fri</text>
<text transform="translate(200.13,350.8) scale(1,1.08)">Sun</text>
<text transform="translate(251.76,350.8) scale(1,1.08)">Tue</text>
<text transform="translate(303.39,350.8) scale(1,1.08)">Thu</text>
<text transform="translate(355.02,350.8) scale(1,1.08)">Sat</text>
<text transform="translate(406.65,350.8) scale(1,1.08)">Mon</text>
<text transform="translate(458.28,350.8) scale(1,1.08)">Wed</text>
<text transform="translate(509.91,350.8) scale(1,1.08)">Fri</text>
<text transform="translate(561.54,350.8) scale(1,1.08)">Sun</text>
<text transform="translate(613.17,350.8) scale(1,1.08)">Tue</text>
<text transform="translate(664.80,350.8) scale(1,1.08)">Thu</text>
<text transform="translate(716.43,350.8) scale(1,1.08)">Sat</text>
<text transform="translate(768.06,350.8) scale(1,1.08)">Mon</text>
<text transform="translate(819.69,350.8) scale(1,1.08)">Wed</text>
<text transform="translate(275,19.3) scale(1,1.08)">Stezery - zitnyp - switch - Traffic - ether24</text>
<text transform="translate(14.6,246) rotate(-90) scale(1,1.08)">bits per second</text>
<text transform="translate(900,5.5) rotate(90) scale(1,1.08)" style="font-size:8.35px;fill:#a2a2a2">RRDTOOL / TOBI OETIKER</text>
<g shape-rendering="crispEdges">
<rect x="17.5" y="363.5" width="10" height="9" fill="#00cf00" stroke="#000" stroke-width="1"/>
<rect x="17.5" y="379.5" width="10" height="9" fill="#002a97" stroke="#000" stroke-width="1"/>
</g>
<text transform="translate(34,372.5) scale(1,1.08)">Inbound</text>
<text transform="translate(116,372.5) scale(1,1.08)">Current:    1.84</text>
<text transform="translate(279,372.5) scale(1,1.08)">Average:    1.94</text>
<text transform="translate(440.6,372.5) scale(1,1.08)">Maximum:    2.08</text>
<text transform="translate(34,388.5) scale(1,1.08)">Outbound</text>
<text transform="translate(219,388.5) scale(1,1.08)">Current:</text>
<text transform="translate(314.5,388.5) scale(1,1.08)">1.87 k</text>
<text transform="translate(484.5,388.5) scale(1,1.08)">Average:</text>
<text transform="translate(579.5,388.5) scale(1,1.08)">3.19 k</text>
<text transform="translate(749,388.5) scale(1,1.08)">Maximum:</text>
<text transform="translate(844.5,388.5) scale(1,1.08)">5.87 k</text>
</svg></body></html>
